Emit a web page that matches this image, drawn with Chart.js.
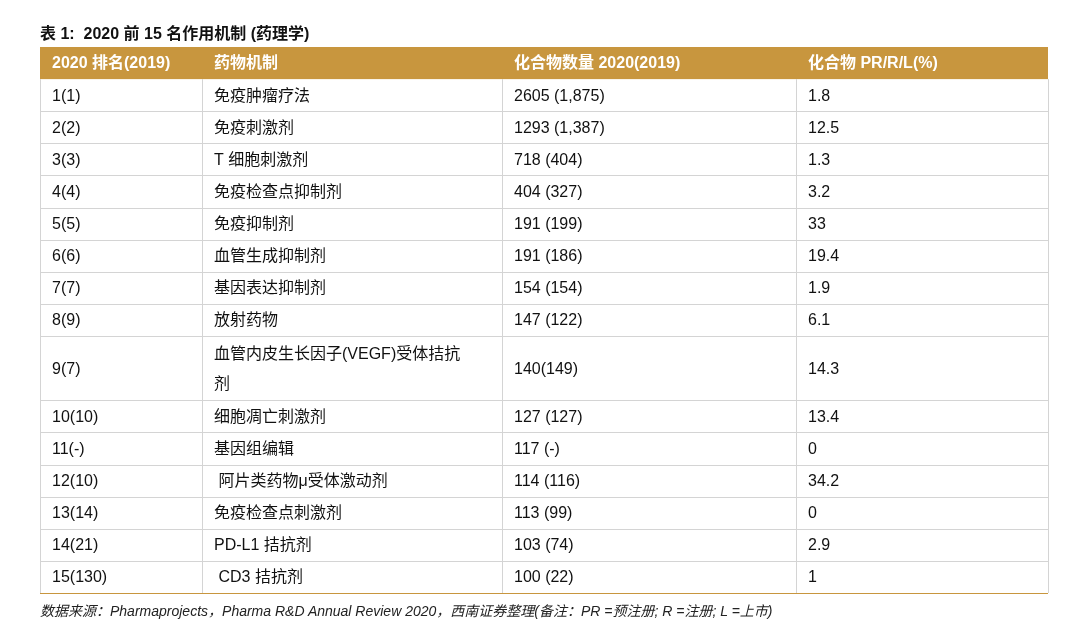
<!DOCTYPE html>
<html>
<head>
<meta charset="utf-8">
<script src="https://cdn.jsdelivr.net/npm/chart.js@4"></script>
<style>
  body { margin: 0; background: #fff; }
  #wrap { position: relative; width: 1080px; height: 631px; }
  #title { position: absolute; left: 40px; top: 20px; font: bold 16px "Liberation Sans", "Noto Sans CJK SC", sans-serif; color: #111; }
  #note { position: absolute; left: 40px; top: 600px; font: italic 14px "Liberation Sans", "Noto Sans CJK SC", sans-serif; color: #222; }
</style>
</head>
<body>
<div id="wrap">
  <canvas id="tbl" width="1080" height="631"></canvas>
  <div id="title">表 1:&nbsp; 2020 前 15 名作用机制 (药理学)</div>
  <div id="note">数据来源：Pharmaprojects，Pharma R&amp;D Annual Review 2020，西南证券整理(备注：PR =预注册; R =注册; L =上市)</div>
</div>
<script>
const headers = ["2020 排名(2019)", "药物机制", "化合物数量 2020(2019)", "化合物 PR/R/L(%)"];
const ranks = ["1(1)", "2(2)", "3(3)", "4(4)", "5(5)", "6(6)", "7(7)", "8(9)", "9(7)", "10(10)", "11(-)", "12(10)", "13(14)", "14(21)", "15(130)"];
const mechanisms = ["免疫肿瘤疗法", "免疫刺激剂", "T 细胞刺激剂", "免疫检查点抑制剂", "免疫抑制剂", "血管生成抑制剂", "基因表达抑制剂", "放射药物", "血管内皮生长因子(VEGF)受体拮抗\n剂", "细胞凋亡刺激剂", "基因组编辑", " 阿片类药物μ受体激动剂", "免疫检查点刺激剂", "PD-L1 拮抗剂", " CD3 拮抗剂"];
const counts = ["2605 (1,875)", "1293 (1,387)", "718 (404)", "404 (327)", "191 (199)", "191 (186)", "154 (154)", "147 (122)", "140(149)", "127 (127)", "117 (-)", "114 (116)", "113 (99)", "103 (74)", "100 (22)"];
const shares = ["1.8", "12.5", "1.3", "3.2", "33", "19.4", "1.9", "6.1", "14.3", "13.4", "0", "34.2", "0", "2.9", "1"];
const rowSpans = [1, 1, 1, 1, 1, 1, 1, 1, 2, 1, 1, 1, 1, 1, 1];

const colEdges = [0, 162, 462, 756, 1008];
const font = '16px "Liberation Sans", "Noto Sans CJK SC", sans-serif';
const boldFont = 'bold 16px "Liberation Sans", "Noto Sans CJK SC", sans-serif';

const tablePlugin = {
  id: "tablePlugin",
  afterDraw(chart) {
    const ctx = chart.ctx;
    const xs = chart.scales.x, ys = chart.scales.y;
    const px = colEdges.map(v => xs.getPixelForValue(v));
    const left = px[0], right = px[px.length - 1];
    ctx.save();
    // header
    const hTop = ys.getPixelForValue(0), hBot = ys.getPixelForValue(1);
    ctx.fillStyle = "#c8963e";
    ctx.fillRect(left, hTop, right - left, hBot - hTop);
    ctx.font = boldFont;
    ctx.fillStyle = "#fff";
    ctx.textBaseline = "middle";
    headers.forEach((h, i) => ctx.fillText(h, px[i] + 12, (hTop + hBot) / 2 + 1));
    // body rows
    let u = 1;
    ctx.font = font;
    ctx.strokeStyle = "#d4d4d4";
    ctx.lineWidth = 1;
    ranks.forEach((r, i) => {
      const top = ys.getPixelForValue(u), bot = ys.getPixelForValue(u + rowSpans[i]);
      const mid = (top + bot) / 2 + 1;
      ctx.fillStyle = "#111";
      [r, null, counts[i], shares[i]].forEach((t, c) => {
        if (t !== null) ctx.fillText(t, px[c] + 12, mid);
      });
      const lines = mechanisms[i].split("\n");
      const lh = 30;
      lines.forEach((ln, k) => {
        ctx.fillText(ln, px[1] + 12, mid + (k - (lines.length - 1) / 2) * lh);
      });
      ctx.beginPath();
      ctx.moveTo(left, Math.round(bot) + 0.5);
      ctx.lineTo(right, Math.round(bot) + 0.5);
      ctx.stroke();
      u += rowSpans[i];
    });
    // vertical lines
    const bTop = ys.getPixelForValue(1), bBot = ys.getPixelForValue(u);
    px.forEach(x => {
      ctx.beginPath();
      ctx.moveTo(Math.round(x) + 0.5, bTop);
      ctx.lineTo(Math.round(x) + 0.5, bBot);
      ctx.stroke();
    });
    ctx.strokeStyle = "#c8963e";
    ctx.beginPath();
    ctx.moveTo(left, Math.round(bBot) + 0.5);
    ctx.lineTo(right, Math.round(bBot) + 0.5);
    ctx.stroke();
    ctx.restore();
  }
};

const totalUnits = 1 + rowSpans.reduce((a, b) => a + b, 0);

new Chart(document.getElementById("tbl"), {
  type: "scatter",
  data: { datasets: [{ data: [] }] },
  options: {
    responsive: false,
    animation: false,
    layout: { padding: { left: 40, right: 32, top: 47, bottom: 38 } },
    plugins: { legend: { display: false }, tooltip: { enabled: false } },
    scales: {
      x: { type: "linear", min: colEdges[0], max: colEdges[colEdges.length - 1], display: false },
      y: { type: "linear", min: 0, max: totalUnits, reverse: true, display: false }
    }
  },
  plugins: [tablePlugin]
});
</script>
</body>
</html>
